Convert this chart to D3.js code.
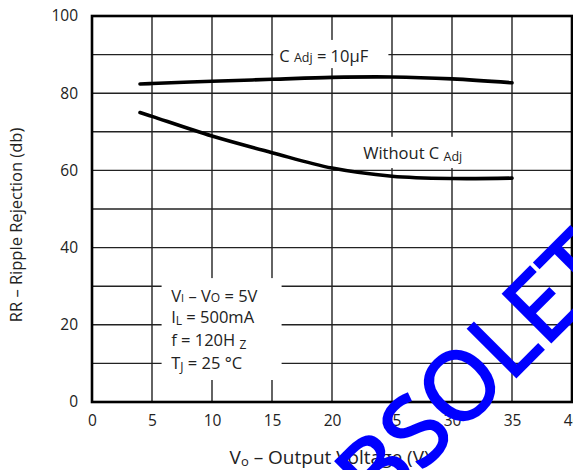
<!DOCTYPE html>
<html>
<head>
<meta charset="utf-8">
<script src="https://cdn.jsdelivr.net/npm/d3@7"></script>
<style>
  body { margin: 0; background: #fff; }
  text { font-family: "Open Sans", sans-serif; fill: #222; }
</style>
</head>
<body>
<div id="chart-area"></div>
<script>
const MARGIN = { LEFT: 92, RIGHT: 1, TOP: 16, BOTTOM: 68 }
const WIDTH = 573 - MARGIN.LEFT - MARGIN.RIGHT
const HEIGHT = 470 - MARGIN.TOP - MARGIN.BOTTOM

// values
const xTicks = [0, 5, 10, 15, 20, 25, 30, 35, 40]
const yTicks = [0, 20, 40, 60, 80, 100]
const xGrid = [5, 10, 15, 20, 25, 30, 35]
const yGrid = [10, 20, 30, 40, 50, 60, 70, 80, 90]
const voltage = [4, 5, 10, 15, 20, 25, 30, 35]
const withCadj = [82.4, 82.5, 83.1, 83.6, 84.1, 84.2, 83.7, 82.7]
const withoutCadj = [75, 74, 68.9, 64.6, 60.6, 58.5, 57.9, 58]

const svg = d3.select("#chart-area").append("svg")
  .attr("width", 573)
  .attr("height", 470)

const g = svg.append("g")
  .attr("transform", `translate(${MARGIN.LEFT}, ${MARGIN.TOP})`)

const xScale = d3.scaleLinear().domain([0, 40]).range([0, WIDTH])
const yScale = d3.scaleLinear().domain([0, 100]).range([HEIGHT, 0])

// grid
g.selectAll(".vgrid").data(xGrid).enter().append("line")
  .attr("x1", d => xScale(d)).attr("x2", d => xScale(d))
  .attr("y1", 0).attr("y2", HEIGHT)
  .attr("stroke", "#222").attr("stroke-width", 1.4)
g.selectAll(".hgrid").data(yGrid).enter().append("line")
  .attr("x1", 0).attr("x2", WIDTH)
  .attr("y1", d => yScale(d)).attr("y2", d => yScale(d))
  .attr("stroke", "#222").attr("stroke-width", 1.4)

// axes (labels only)
const xAxis = g.append("g")
  .attr("transform", `translate(0, ${HEIGHT})`)
  .call(d3.axisBottom(xScale).tickValues(xTicks).tickSize(0).tickPadding(13))
const yAxis = g.append("g")
  .call(d3.axisLeft(yScale).tickValues(yTicks).tickSize(0).tickPadding(14))
;[xAxis, yAxis].forEach(a => {
  a.select(".domain").remove()
  a.selectAll("text").attr("font-size", "15.5px").attr("font-family", "Open Sans, sans-serif").attr("fill", "#222")
})

// white boxes behind the labels
const boxes = [
  [15.1, 24.7, 93.8, 86.5],
  [21.5, 32.3, 68.7, 60.6],
  [5.8, 15.8, 32.1, 5.7]
]
g.selectAll(".box").data(boxes).enter().append("rect")
  .attr("x", d => xScale(d[0]))
  .attr("width", d => xScale(d[1]) - xScale(d[0]))
  .attr("y", d => yScale(d[2]))
  .attr("height", d => yScale(d[3]) - yScale(d[2]))
  .attr("fill", "#fff")

// frame
g.append("rect")
  .attr("width", WIDTH).attr("height", HEIGHT)
  .attr("fill", "none").attr("stroke", "#000").attr("stroke-width", 2.6)

// curves
const line = d3.line()
  .x((d, i) => xScale(voltage[i]))
  .y(d => yScale(d))
  .curve(d3.curveCatmullRom)
;[withCadj, withoutCadj].forEach(s => {
  g.append("path")
    .datum(s)
    .attr("fill", "none")
    .attr("stroke", "#000")
    .attr("stroke-width", 3.6)
    .attr("stroke-linecap", "round")
    .attr("d", line)
})

// curve labels
const cLabel = g.append("text").attr("x", xScale(15.6)).attr("y", yScale(88.1)).attr("font-size", "16.5px")
cLabel.append("tspan").text("C ")
cLabel.append("tspan").attr("font-size", "12.5px").text("Adj")
cLabel.append("tspan").text(" = 10µF")

const wLabel = g.append("text").attr("x", xScale(22.6)).attr("y", yScale(62.9)).attr("font-size", "16.5px")
wLabel.append("tspan").text("Without C ")
wLabel.append("tspan").attr("font-size", "12.5px").attr("dy", 2).text("Adj")

// conditions
const cond = [
  [["V", 16.5, 0], ["I", 11, 0], [" – V", 16.5, 0], ["O", 12, 0], [" = 5V", 16.5, 0]],
  [["I", 16.5, 0], ["L", 12, 2], [" = 500mA", 16.5, -2]],
  [["f = 120H ", 16.5, 0], ["Z", 12, 3], ["", 16.5, -3]],
  [["T", 16.5, 0], ["J", 12, 2], [" = 25 °C", 16.5, -2]]
]
const condY = [26, 20.4, 14.5, 8.5]
cond.forEach((parts, i) => {
  const t = g.append("text").attr("x", xScale(6.6)).attr("y", yScale(condY[i]))
  parts.forEach(p => t.append("tspan").attr("font-size", p[1] + "px").attr("dy", p[2]).text(p[0]))
})

// axis titles
const xLabel = svg.append("text")
  .attr("x", MARGIN.LEFT + xScale(19.8))
  .attr("y", 464)
  .attr("font-size", "19px")
  .attr("text-anchor", "middle")
xLabel.append("tspan").text("V")
xLabel.append("tspan").attr("font-size", "13px").attr("dy", 2).text("o")
xLabel.append("tspan").attr("dy", -2).text(" – Output Voltage (V)")

svg.append("text")
  .attr("x", -225)
  .attr("y", 22)
  .attr("font-size", "16.5px")
  .attr("text-anchor", "middle")
  .attr("transform", "rotate(-90)")
  .text("RR – Ripple Rejection (db)")

// watermark
svg.append("text")
  .attr("transform", "translate(325, 568) rotate(-45)")
  .attr("font-family", "Liberation Sans, Arial, sans-serif")
  .attr("font-size", "95px")
  .attr("stroke", "#0000ff")
  .attr("stroke-width", 2.5)
  .style("fill", "#0000ff")
  .text("OBSOLETE")
</script>
</body>
</html>
